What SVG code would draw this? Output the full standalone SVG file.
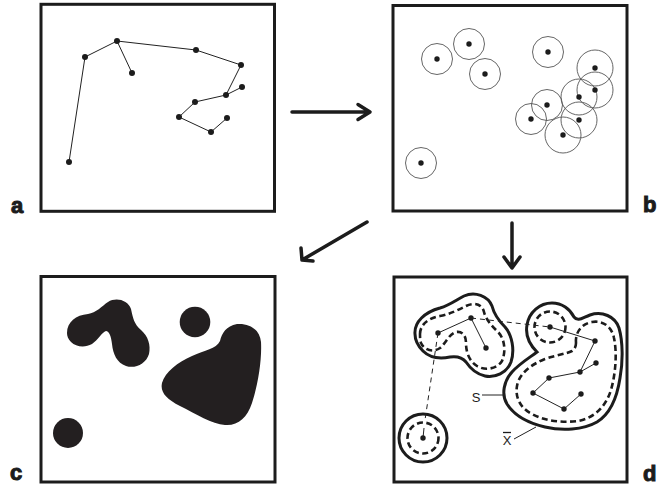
<svg xmlns="http://www.w3.org/2000/svg" width="667" height="487" viewBox="0 0 667 487">
<defs>
<style>
.frame{fill:none;stroke:#1c1c1c;stroke-width:3}
.lbl{font-family:"Liberation Sans",Arial,sans-serif;font-weight:900;font-size:22px;fill:#1c1c1c;stroke:#1c1c1c;stroke-width:1}
.edge{fill:none;stroke:#222;stroke-width:1}
.dot{fill:#1c1c1c}
.ring{fill:none;stroke:#555;stroke-width:0.9}
.blob{fill:#231f20}
.solid{fill:none;stroke:#1c1c1c;stroke-width:3}
.dash{fill:none;stroke:#1c1c1c;stroke-width:2.6;stroke-dasharray:6 3.5}
.thindash{fill:none;stroke:#222;stroke-width:1;stroke-dasharray:5 4}
.arrow{fill:none;stroke:#1c1c1c;stroke-width:3.5;stroke-linecap:round;stroke-linejoin:round}
.small{font-family:"Liberation Sans",Arial,sans-serif;font-size:13px;fill:#1c1c1c}
</style>
</defs>
<rect width="667" height="487" fill="#fff"/>

<g id="panel-a">
<rect class="frame" x="41" y="4.3" width="233.5" height="207"/>
<polyline class="edge" points="69,162 85,57 117,41 132,73"/>
<polyline class="edge" points="117,41 196,50 241,65 226,95 242,87"/>
<polyline class="edge" points="226,95 195,102 179,117 211,132 227,118"/>
<g class="dot">
<circle cx="69" cy="162" r="3"/><circle cx="85" cy="57" r="3"/><circle cx="117" cy="41" r="3"/><circle cx="132" cy="73" r="3"/>
<circle cx="196" cy="50" r="3"/><circle cx="241" cy="65" r="3"/><circle cx="226" cy="95" r="3"/><circle cx="242" cy="87" r="3"/>
<circle cx="195" cy="102" r="3"/><circle cx="179" cy="117" r="3"/><circle cx="211" cy="132" r="3"/><circle cx="227" cy="118" r="3"/>
</g>
<text class="lbl" x="11" y="213">a</text>
</g>

<g id="panel-b">
<rect class="frame" x="393" y="5.5" width="234" height="205.5"/>
<g class="ring">
<circle cx="437" cy="59" r="15.5"/><circle cx="469" cy="44" r="15.5"/><circle cx="485" cy="74" r="15.5"/><circle cx="548" cy="52" r="15.5"/>
<circle cx="547" cy="105" r="15.5"/><circle cx="531" cy="119" r="15.5"/><circle cx="421" cy="163" r="15.5"/>
<circle cx="595" cy="68" r="18"/><circle cx="595" cy="90" r="18"/><circle cx="579" cy="97" r="18"/><circle cx="579" cy="120" r="18"/><circle cx="563" cy="135" r="18"/>
</g>
<g class="dot">
<circle cx="437" cy="59" r="2.7"/><circle cx="469" cy="44" r="2.7"/><circle cx="485" cy="74" r="2.7"/><circle cx="548" cy="52" r="2.7"/>
<circle cx="547" cy="105" r="2.7"/><circle cx="531" cy="119" r="2.7"/><circle cx="421" cy="163" r="2.7"/>
<circle cx="595" cy="68" r="2.7"/><circle cx="595" cy="90" r="2.7"/><circle cx="579" cy="97" r="2.7"/><circle cx="579" cy="120" r="2.7"/><circle cx="563" cy="135" r="2.7"/>
</g>
<text class="lbl" x="643" y="212">b</text>
</g>

<g id="panel-c">
<rect class="frame" x="41" y="276.5" width="234" height="205.5"/>
<path class="blob" d="M67,333 C67,322 76,315 88,314 C96,313 102,306 108,302 C116,297 128,300 131,309 C133,318 134,324 141,330 C148,336 151,345 149,354 C146,364 135,369 126,366 C117,363 113,354 112,344 C111,336 109,331 106,331 C102,332 98,340 92,344 C85,348 76,347 71,342 C68,339 67,336 67,333 Z"/>
<circle class="blob" cx="195" cy="322" r="15.3"/>
<circle class="blob" cx="68" cy="433" r="15"/>
<path class="blob" d="M237,324 C250,323 260,330 261,342 C262,360 258,385 252,403 C247,418 238,426 225,425 C212,424 196,414 180,406 C166,399 160,392 162,383 C165,372 178,362 192,356 C205,350 216,349 220,341 C222,333 226,326 237,324 Z"/>
<text class="lbl" x="10" y="480">c</text>
</g>

<g id="panel-d">
<rect class="frame" x="394" y="277" width="233" height="205"/>
<path class="solid" d="M415,334 C414,322 425,312 440,308 C450,305 456,300 464,296 C475,291 488,296 492,306 C494,314 498,320 505,327 C512,335 515,350 511,362 C507,373 495,378 485,376 C476,374 470,368 466,362 C462,357 457,356 450,357 C440,359 430,358 423,351 C418,346 415,340 415,334 Z"/>
<path class="dash" d="M420,334 C420,325 428,318 440,316 C450,314 458,310 466,306 C474,302 482,304 484,312 C486,320 492,326 498,332 C505,339 506,352 502,361 C497,369 485,371 477,366 C469,361 466,352 466,343 C466,335 462,331 456,332 C449,334 446,343 440,348 C433,353 424,350 421,343 C420,340 420,337 420,334 Z"/>
<path class="solid" d="M537,352 C530,345 525,336 527,325 C529,312 540,303 552,303 C562,303 570,309 574,317 C578,322 582,318 590,315 C602,311 615,316 619,328 C623,342 623,362 620,378 C617,398 610,414 597,422 C583,430 562,431 545,427 C528,423 514,415 507,404 C501,394 504,381 512,372 C519,364 529,358 537,352 Z"/>
<path class="dash" d="M576,343 C575,333 581,324 592,322 C603,320 612,327 614,338 C617,352 616,372 611,390 C606,406 595,418 578,421 C562,423 545,421 532,414 C520,408 515,397 517,386 C519,374 530,365 545,359 C556,355 566,354 572,351 C575,349 576,346 576,343 Z"/>
<circle class="dash" cx="550" cy="327" r="15.5"/>
<circle class="solid" cx="423" cy="438" r="24"/>
<circle class="dash" cx="423" cy="438" r="15.5"/>
<polyline class="edge" points="438,333 471,318 486,348"/>
<polyline class="edge" points="550,327 595,341 580,372 596,363"/>
<polyline class="edge" points="580,372 549,378 533,393 564,409 581,394"/>
<line class="edge" x1="424" y1="428" x2="423" y2="438"/>
<g class="dot">
<circle cx="438" cy="333" r="2.7"/><circle cx="471" cy="318" r="2.7"/><circle cx="486" cy="348" r="2.7"/>
<circle cx="550" cy="327" r="2.7"/><circle cx="595" cy="341" r="2.7"/><circle cx="596" cy="363" r="2.7"/><circle cx="580" cy="372" r="2.7"/>
<circle cx="549" cy="378" r="2.7"/><circle cx="533" cy="393" r="2.7"/><circle cx="581" cy="394" r="2.7"/><circle cx="564" cy="409" r="2.7"/>
<circle cx="423" cy="438" r="2.7"/>
</g>
<line class="edge" x1="482" y1="395" x2="505" y2="395"/>
<text class="small" x="476" y="402" text-anchor="middle">S</text>
<line class="edge" x1="514" y1="439" x2="536" y2="427"/>
<text class="small" x="507" y="445" text-anchor="middle" font-size="12">X</text>
<line x1="503" y1="432.5" x2="511" y2="432.5" stroke="#1c1c1c" stroke-width="1.3"/>
<text class="lbl" x="643" y="481">d</text>
</g>

<g id="connectors">
<line class="thindash" x1="471" y1="318" x2="550" y2="327"/>
<line class="thindash" x1="438" y1="333" x2="425" y2="420"/>
<path class="arrow" d="M292,112 L369,112 M358,104.5 L370,112 L358,119.5"/>
<path class="arrow" d="M367,222 L302,260 M301,248 L302,260 L313,261"/>
<path class="arrow" d="M512,223 L512,267 M504,257 L512,268 L520,257"/>
</g>
</svg>
